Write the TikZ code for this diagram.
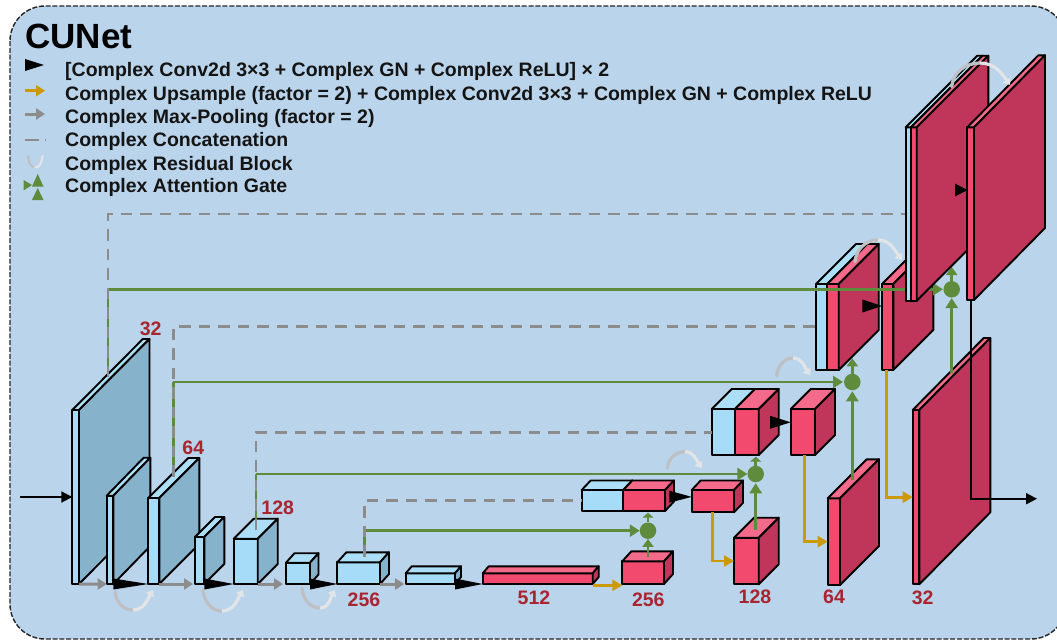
\documentclass[tikz,border=0pt]{standalone}
\usepackage{fontspec}
\setmainfont{Liberation Sans}
\usetikzlibrary{arrows.meta,calc}
\definecolor{bgc}{RGB}{186,212,235}
\definecolor{blueF}{RGB}{166,220,247}
\definecolor{blueT}{RGB}{172,222,247}
\definecolor{blueS}{RGB}{135,178,203}
\definecolor{redF}{RGB}{242,73,111}
\definecolor{redT}{RGB}{244,106,138}
\definecolor{redS}{RGB}{192,54,90}
\definecolor{gateG}{RGB}{95,140,60}
\definecolor{upA}{RGB}{204,154,6}
\definecolor{poolG}{RGB}{140,140,140}
\definecolor{labR}{RGB}{168,36,47}
\definecolor{arcD}{RGB}{190,192,196}
\definecolor{arcL}{RGB}{226,229,232}
\tikzset{
  x=1pt,y=-1pt,
  face/.style={draw=black,line width=1.9pt,line join=round},
  front/.style={face,rectangle,inner sep=0pt,outer sep=0pt},
  dimlab/.style={font=\fontsize{19.5}{20}\selectfont\bfseries,text=labR,inner sep=0pt},
  legtext/.style={font=\fontsize{19.5}{20}\selectfont\bfseries,anchor=base west,inner sep=0pt,text=black!92},
  gateline/.style={draw=gateG,line width=2.9pt},
  gatearrow/.style={gateline,-{Triangle[length=10pt,width=12pt]}},
  gatearrowup/.style={gateline,-{Triangle[length=8pt,width=11pt]}},
  gatedot/.style={circle,fill=gateG,minimum size=16.5pt,inner sep=0pt,outer sep=0pt},
  upline/.style={draw=upA,line width=2.9pt,-{Triangle[length=10pt,width=11pt]}},
  poolline/.style={draw=poolG,line width=3pt,-{Triangle[length=9pt,width=11pt]}},
  skipline/.style={draw=poolG,line width=2.9pt,dash pattern=on 11.5pt off 8pt},
  flowline/.style={draw=black,line width=1.9pt,-{Triangle[length=11pt,width=11pt]}},
  arcone/.style={draw=arcD,line width=3.2pt,line cap=round},
  arctwo/.style={draw=arcL,line width=3.2pt,-{Triangle[length=6pt,width=9pt]}},
}
% name, x1, x2, ytop, ybot, dx, dy, scheme
\newcommand{\cuboid}[8]{%
  \pgfmathsetmacro{\cbw}{#3-#2}\pgfmathsetmacro{\cbh}{#5-#4}%
  \pgfmathsetmacro{\cbx}{(#2+#3)/2}\pgfmathsetmacro{\cby}{(#4+#5)/2}%
  \node[front,fill=#8F,minimum width=\cbw pt,minimum height=\cbh pt] (#1) at (\cbx,\cby) {};
  \draw[face,fill=#8T] (#1.north west) -- ++(#6,-#7) -- ++(\cbw,0) -- (#1.north east) -- cycle;
  \draw[face,fill=#8S] (#1.north east) -- ++(#6,-#7) -- ++(0,\cbh) -- (#1.south east) -- cycle;
}
\newcommand{\bigtri}[3]{\fill[black] ($(#1)+(0,#3)$) -- ($(#1)+(0,-#3)$) -- (#2) -- cycle;}
\newcommand{\arcunder}[3]{%
  \draw[arcone] (#1) to[out=-85,in=180] (#2);
  \draw[arctwo] (#2) to[out=0,in=-120] (#3);}
\newcommand{\arcover}[3]{%
  \draw[arcone] (#1) to[out=85,in=180] (#2);
  \draw[arctwo] (#2) to[out=0,in=125] (#3);}
\begin{document}
\begin{tikzpicture}
\useasboundingbox (0,0) rectangle (1057,640);
\fill[white] (0,0) rectangle (1057,640);
\begin{scope}
  \clip (0,0) rectangle (1057,640);
  \draw[fill=bgc,draw=black!85,line width=1.4pt,dash pattern=on 5pt off 1.8pt,rounded corners=35pt] (10,6) rectangle (1066,639);
\end{scope}

% title and legend
\node[font=\fontsize{35}{35}\selectfont\bfseries,anchor=base west,inner sep=0pt,text=black] (title) at (25,48) {CUNet};
\node[legtext] (l1) at (65,76.7) {[Complex Conv2d 3×3 + Complex GN + Complex ReLU] × 2};
\node[legtext] (l2) at (65,100) {Complex Upsample (factor = 2) + Complex Conv2d 3×3 + Complex GN + Complex ReLU};
\node[legtext] (l3) at (65,123.3) {Complex Max-Pooling (factor = 2)};
\node[legtext] (l4) at (65,146.7) {Complex Concatenation};
\node[legtext] (l5) at (65,170) {Complex Residual Block};
\node[legtext] (l6) at (65,192.7) {Complex Attention Gate};
\fill[black] (25,59) -- (44,65) -- (25,71) -- cycle;
\draw[upline,-{Triangle[length=9pt,width=11pt]}] (25,90.7) -- (45,90.7);
\draw[poolline] (25,114) -- (45,114);
\draw[draw=poolG,line width=2.5pt,dash pattern=on 14pt off 6pt on 1pt off 9pt] (25,140) -- (46,140);
\draw[draw=arcD,line width=2pt,line cap=round] (28,156) to[out=-85,in=175] (35,167.5);
\draw[draw=arcL,line width=2.2pt,line cap=round] (35,167.5) to[out=-5,in=-100] (42.5,156);
\fill[gateG] (23.5,180) -- (32,185) -- (23.5,190.5) -- cycle;
\fill[gateG] (37.7,174) -- (43.5,186.5) -- (32,186.5) -- cycle;
\fill[gateG] (37.7,188) -- (43.5,200) -- (32,200) -- cycle;

% encoder
\cuboid{Ea}{72.3}{79}{410}{584}{70.5}{71}{blue}
\cuboid{Eb}{106.7}{113.3}{495.7}{584}{37}{38}{blue}
\cuboid{Ec}{148.3}{159.3}{498}{584}{40}{40}{blue}
\cuboid{Ed}{195}{204.3}{537}{584}{20}{20}{blue}
\cuboid{Ee}{233.7}{257.7}{538.7}{584}{20}{20}{blue}
\cuboid{Ef}{286}{310}{562.7}{584}{8.5}{9.5}{blue}
\cuboid{Eg}{337.3}{380}{562.3}{584}{9}{10}{blue}
\cuboid{Eh}{405.7}{455}{573.3}{584}{6}{7}{blue}
\cuboid{Bn}{482.7}{592.7}{573.3}{584}{6}{7}{red}

% decoder, lower levels
\cuboid{Da}{622.3}{664}{561.3}{584}{9}{10}{red}
\cuboid{Dbb}{581.7}{623.3}{490}{511}{9}{9.5}{blue}
\cuboid{Db}{623.3}{665}{490}{511}{9}{9.5}{red}
\cuboid{Dc}{691.7}{734}{490}{512.3}{9}{9.5}{red}
\cuboid{Dd}{734}{758.7}{537.7}{584.3}{20}{20}{red}
\cuboid{Deb}{711.7}{735}{409}{455}{20}{20}{blue}
\cuboid{De}{735}{758.7}{409}{455}{20}{20}{red}
\cuboid{Df}{790.7}{815}{409}{455}{20}{20}{red}
\cuboid{Dg}{827.7}{840}{498.3}{585}{39}{39}{red}
\cuboid{Dhb}{816}{827.3}{284}{370}{40}{40}{blue}
\cuboid{Dh}{827.3}{838.7}{284}{370}{40}{40}{red}
\cuboid{Di}{882}{893.3}{284}{370}{40}{40}{red}
\cuboid{Dj}{912.7}{919.3}{410}{584.3}{71}{72}{red}

% attention gates
\node[gatedot] (G1) at (951.7,289.3) {};
\node[gatedot] (G2) at (852.3,382) {};
\node[gatedot] (G3) at (755.7,474) {};
\node[gatedot] (G4) at (648,530.7) {};

% named free ends on top faces
\coordinate (s1) at (108,377);
\coordinate (s2) at (173.3,476.7);
\coordinate (s3) at (256,530);
\coordinate (s4) at (364.3,556.7);
\coordinate (g1f) at (951.7,373);
\coordinate (g2f) at (852.3,480);
\coordinate (g3f) at (755.7,530);
\coordinate (g4f) at (648,556.7);

% gate connectors
\draw[gateline] (s1) -- (108,289.3);
\draw[gatearrow] (108,289.3) -- ([xshift=-0.5pt]G1.west);
\draw[gateline] (s2) -- (173.3,382);
\draw[gatearrow] (173.3,382) -- ([xshift=-1pt]G2.west);
\draw[gateline] (s3) -- (256,474);
\draw[gatearrow] (256,474) -- (G3.west);
\draw[gateline] (s4) -- (364.3,530.7);
\draw[gatearrow] (364.3,530.7) -- (G4.west);
\draw[gatearrow] (g1f) -- ([yshift=-0.5pt]G1.south);
\draw[gatearrow] (g2f) -- ([yshift=-1pt]G2.south);
\draw[gatearrow] (g3f) -- ([yshift=-1pt]G3.south);
\draw[gatearrowup] (g4f) -- (G4.south);
\coordinate (u1) at (951.7,267);
\coordinate (u2) at (852.3,358.3);
\coordinate (u3) at (755.7,456.7);
\coordinate (u4) at (648,512.7);
\draw[gatearrowup] (G1) -- (u1);
\draw[gatearrowup] (G2) -- (u2);
\draw[gatearrowup,-{Triangle[length=5pt,width=11pt]}] (G3) -- (u3);
\draw[gatearrowup,-{Triangle[length=5pt,width=11pt]}] (G4) -- (u4);

% skip connections
\draw[skipline] (s1) -- (108,214) -- (905.7,214);
\draw[skipline] (s2) -- (173.3,326.7) -- (816,326.7);
\draw[skipline] (s3) -- (256,432.3) -- (711.7,432.3);
\draw[skipline] (s4) -- (364.3,500.7) -- (581.7,500.7);

% top level block
\cuboid{Dkb}{905.7}{911}{127.3}{300.7}{71.6}{71.6}{blue}
\cuboid{Dk}{911}{916.7}{127.3}{300.7}{71.6}{71.6}{red}
\cuboid{Dl}{967.3}{974}{127.3}{300}{71}{72}{red}

% max pooling
\draw[poolline] (Ea.south east) -- (Eb.south west);
\draw[poolline] (Ec.south east) -- ([xshift=-2pt]Ed.south west);
\draw[poolline] (Ee.south east) -- ([xshift=-3pt]Ef.south west);
\draw[poolline] (Eg.south east) -- ([xshift=-1.5pt]Eh.south west);

% conv blocks
\bigtri{Eb.south east}{Ec.south west}{5.5}
\bigtri{Ed.south east}{Ee.south west}{5.5}
\bigtri{Ef.south east}{Eg.south west}{5.5}
\bigtri{Eh.south east}{Bn.south west}{5.5}
\coordinate (t1) at (669.3,496.7);
\coordinate (t2) at (770,422.3);
\coordinate (t3) at (862.3,306);
\coordinate (t4) at (955,190);
\bigtri{t1}{$(Dc.west)+(0,-4.3)$}{6}
\bigtri{t2}{$(Df.west)+(0,-9.7)$}{6.5}
\bigtri{t3}{$(Di.west)+(0,-21)$}{6.5}
\bigtri{t4}{$(Dl.west)+(0,-23.6)$}{6.5}

% upsampling
\draw[upline] ([yshift=-1.3pt]Bn.south east) -- ([yshift=-1.3pt]Da.south west);
\draw[upline] (Dc.south) |- (Dd.west);
\draw[upline] ([xshift=1.4pt]Df.south) |- (Dg.west);
\draw[upline] ([xshift=-1pt]Di.south) |- (Dj.west);

% flow in and out
\coordinate (in) at (20,497);
\coordinate (out) at (1037,498.7);
\draw[flowline] (in) -- (Ea.west |- in);
\draw[flowline] (Dl.south) |- (out);

% residual arcs
\arcunder{115,591.7}{133,610}{153,590}
\arcunder{203,590}{222,611}{243,590}
\arcunder{302,588}{320,608}{335,590}
\arcover{667.3,468}{685,451.7}{701.7,468}
\arcover{776.7,376}{793,358}{810,375}
\arcover{855,261.7}{878,240}{901.7,260}
\arcover{951.7,86.7}{980,63}{1010,85}

% dimension labels
\node[dimlab] (n1) at (150.7,329) {32};
\node[dimlab] (n2) at (193.3,447.3) {64};
\node[dimlab] (n3) at (277.7,507.7) {128};
\node[dimlab] (n4) at (364,600) {256};
\node[dimlab] (n5) at (534,597.7) {512};
\node[dimlab] (n6) at (648.3,600) {256};
\node[dimlab] (n7) at (755,596.7) {128};
\node[dimlab] (n8) at (834,596.7) {64};
\node[dimlab] (n9) at (922.7,597.3) {32};
\end{tikzpicture}
\end{document}
